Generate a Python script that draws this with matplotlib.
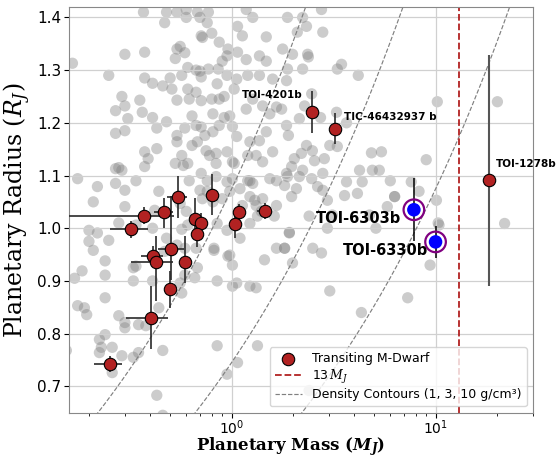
import numpy as np
import matplotlib
matplotlib.use('Agg')
import matplotlib.pyplot as plt

# background population of known planets (mass in M_J, radius in R_J)
gray_pts = [
    (0.37,1.41),(0.48,1.41),(0.54,1.41),(0.60,1.415),(0.68,1.41),(0.77,1.41),(0.47,1.39),(0.60,1.40),(0.70,1.40),
    (0.76,1.39),(0.80,1.37),(0.71,1.365),(0.72,1.362),(1.07,1.383),(1.13,1.365),(1.18,1.415),(1.27,1.40),(1.48,1.363),
    (0.166,1.313),(0.30,1.33),(0.375,1.334),(0.54,1.34),(0.59,1.333),(0.53,1.322),(0.56,1.345),(0.87,1.353),(0.96,1.34),
    (0.95,1.327),(0.90,1.317),(1.07,1.334),(1.18,1.32),(1.37,1.327),(1.48,1.317),
    (0.25,1.29),(0.375,1.285),(0.41,1.275),(0.46,1.27),(0.50,1.285),(0.51,1.264),(0.57,1.29),(0.61,1.305),(0.67,1.30),
    (0.70,1.298),(0.71,1.287),(0.77,1.302),(0.86,1.302),(0.95,1.29),(0.85,1.274),(1.06,1.283),(1.03,1.264),(1.20,1.29),
    (1.37,1.29),(1.59,1.283),
    (0.29,1.25),(0.355,1.243),(0.54,1.243),(0.61,1.264),(0.62,1.245),(0.67,1.258),(0.71,1.242),(0.80,1.245),(0.87,1.245),
    (0.92,1.25),(0.92,1.21),(0.98,1.213),(1.01,1.193),(1.18,1.226),(1.27,1.245),(1.42,1.232),(1.54,1.217),(1.66,1.23),
    (0.27,1.223),(0.30,1.232),(0.31,1.208),(0.30,1.185),(0.27,1.18),(0.365,1.22),(0.41,1.21),(0.43,1.19),(0.48,1.202),
    (0.54,1.176),(0.59,1.19),(0.64,1.213),(0.67,1.195),(0.71,1.192),(0.74,1.176),(0.81,1.183),(0.81,1.217),(0.87,1.195),
    (1.06,1.174),(1.23,1.164),(1.37,1.166),(1.48,1.183),
    (0.375,1.145),(0.43,1.151),(0.39,1.132),(0.375,1.117),(0.54,1.164),(0.57,1.138),(0.64,1.157),(0.68,1.164),(0.75,1.147),
    (0.78,1.138),(0.84,1.142),(0.95,1.145),(1.01,1.126),(1.20,1.138),(1.32,1.138),(1.42,1.126),(1.59,1.145),
    (0.176,1.094),(0.22,1.079),(0.21,1.05),(0.27,1.113),(0.29,1.11),(0.27,1.085),(0.30,1.072),(0.34,1.09),(0.44,1.07),
    (0.53,1.123),(0.58,1.119),(0.62,1.09),(0.71,1.104),(0.76,1.09),(0.84,1.098),(0.95,1.088),(1.01,1.094),(1.10,1.075),
    (1.23,1.09),(1.27,1.085),(1.42,1.056),(1.54,1.094),(1.66,1.09),
    (0.30,1.041),(0.56,1.047),(0.60,1.032),(0.70,1.072),(0.72,1.056),(0.81,1.05),(0.90,1.056),(0.98,1.07),(1.13,1.043),
    (1.23,1.06),(1.32,1.043),(1.40,1.032),(1.66,1.043),
    (1.88,1.40),(2.23,1.40),(2.33,1.383),(2.76,1.415),(2.10,1.372),(2.80,1.372),(1.78,1.34),(1.99,1.33),(2.36,1.33),
    (2.38,1.325),(1.88,1.302),(2.23,1.302),(3.30,1.302),(3.46,1.311),(4.18,1.29),(1.86,1.28),(2.47,1.255),(2.28,1.232),
    (1.76,1.226),(3.27,1.22),(2.15,1.208),(2.73,1.21),(3.66,1.20),(1.86,1.195),(1.90,1.176),(2.33,1.157),(2.49,1.147),
    (3.03,1.157),(3.30,1.155),(2.20,1.142),(2.85,1.132),(2.55,1.128),(2.03,1.132),(4.85,1.143),(5.43,1.145),(9.0,1.13),
    (10.2,1.24),(20.1,1.24),
    (1.97,1.117),(2.23,1.11),(1.86,1.104),(2.15,1.098),(2.47,1.094),(2.80,1.104),(4.24,1.11),(4.90,1.11),(5.30,1.11),
    (4.37,1.088),(3.66,1.088),(6.0,1.09),(7.6,1.088),(1.82,1.081),(2.08,1.075),(2.64,1.079),(2.80,1.072),(1.97,1.06),
    (2.95,1.053),(3.58,1.062),(4.14,1.066),(6.3,1.06),(8.3,1.07),(10.1,1.053),(5.8,1.041),(2.40,1.023),(3.12,1.025),
    (4.74,1.025),(10.4,1.006),(21.8,1.009),
    (0.20,0.996),(0.22,0.991),(0.20,0.975),(0.25,0.977),(0.21,0.958),(0.17,0.905),(0.185,0.919),(0.24,0.938),(0.24,0.911),
    (0.33,0.925),(0.33,0.90),(0.41,0.90),(0.176,0.853),(0.19,0.849),(0.195,0.836),(0.24,0.868),(0.28,0.834),(0.30,0.821),
    (0.30,0.811),(0.35,0.817),(0.38,0.815),(0.44,0.849),(0.225,0.789),(0.24,0.798),(0.23,0.774),(0.225,0.764),(0.26,0.774),
    (0.29,0.758),(0.33,0.755),(0.35,0.764),(0.26,0.726),(0.46,0.768),(0.155,0.768),(0.43,0.683),(0.46,0.645),
    (0.56,0.896),(0.59,0.911),(0.57,0.877),(0.48,0.981),(0.54,0.968),(0.59,0.962),(0.67,0.962),(0.68,0.925),(0.66,0.906),
    (0.82,0.958),(0.98,0.949),(1.01,0.93),(0.85,0.90),(1.01,0.89),(1.06,0.896),(1.10,0.981),(1.23,0.89),(1.32,0.887),
    (1.45,0.94),(0.85,0.777),(1.07,0.745),(0.95,0.723),(1.34,0.777),(1.66,0.962),
    (1.92,0.991),(2.5,0.962),(2.76,0.953),(1.99,0.934),(1.82,0.962),(2.95,1.0),(5.1,1.0),(3.03,0.881),(4.33,0.84),
    (7.3,0.868),(9.4,0.93),(2.4,0.692),(10.3,1.01),(6.3,1.06),
    (0.28,1.115),(0.28,1.01),(0.34,1.006),(0.41,1.0),(0.42,1.034),(0.57,0.998),(0.34,0.928),(0.47,0.956),
    (0.61,1.123),(0.84,1.123),(1.03,1.123),(1.2,1.09),(1.88,1.098),(0.76,1.07),(1.3,1.053),(1.34,1.023),(1.62,1.023),
    (1.92,0.992),(1.23,1.009),(0.85,1.009),(0.95,0.996),(0.61,1.006),(0.82,0.962),(0.96,0.947),(1.82,0.962),
]
gray_mass = [p[0] for p in gray_pts]
gray_radius = [p[1] for p in gray_pts]

# transiting giants around M dwarfs
md_mass   = [0.254, 0.322, 0.372, 0.466, 0.545, 0.804, 0.664, 0.705, 0.676, 1.086, 1.04, 1.463,
             0.506, 0.411, 0.428, 0.589, 0.497, 0.404, 2.48, 3.21, 18.2]
md_radius = [0.743, 0.998, 1.024, 1.030, 1.060, 1.063, 1.018, 1.009, 0.989, 1.030, 1.008, 1.033,
             0.961, 0.947, 0.936, 0.936, 0.884, 0.830, 1.221, 1.189, 1.091]
md_mlo = [0.043, 0.069, 0.25, 0.05, 0.06, 0.05, 0.03, 0.03, 0.02, 0.03, 0.02, 0.13,
          0.07, 0.05, 0.105, 0.02, 0.02, 0.10, 0.0, 0.0, 0.0]
md_mhi = [0.038, 0.066, 0.15, 0.05, 0.06, 0.05, 0.03, 0.03, 0.02, 0.03, 0.02, 0.11,
          0.08, 0.05, 0.09, 0.02, 0.02, 0.083, 0.0, 0.0, 0.0]
md_rlo = [0.015, 0.016, 0.016, 0.03, 0.04, 0.037, 0.02, 0.02, 0.025, 0.016, 0.027, 0.015,
          0.06, 0.02, 0.075, 0.04, 0.035, 0.06, 0.04, 0.03, 0.20]
md_rhi = [0.015, 0.016, 0.016, 0.028, 0.04, 0.04, 0.04, 0.02, 0.025, 0.016, 0.027, 0.015,
          0.10, 0.02, 0.05, 0.05, 0.035, 0.06, 0.04, 0.03, 0.237]

# new planets
new_names  = ['TOI-6303b', 'TOI-6330b']
new_mass   = [7.83, 10.0]
new_radius = [1.035, 0.974]
new_rerr   = [0.06, 0.03]

densities = [1, 3, 10]  # g/cm^3
deut_limit = 13

fig = plt.figure(figsize=(5.58, 4.58), dpi=100)
ax = fig.add_axes([0.124, 0.099, 0.831, 0.886])

ax.grid(True, color='#d0d0d0', lw=0.9, zorder=0)

ax.scatter(gray_mass, gray_radius, s=66, color='gray', alpha=0.4, edgecolors='none', zorder=1)

# density contours
mj = 1.898e30; rj = 7.1492e9
mgrid = np.logspace(-1, 1.8, 300)
for i, rho in enumerate(densities):
    r = (3 * mgrid * mj / (4 * np.pi * rho)) ** (1 / 3) / rj
    ax.plot(mgrid, r, ls='--', color='gray', lw=0.85,
            label='Density Contours (1, 3, 10 g/cm³)' if i == 0 else None, zorder=2)

ax.axvline(deut_limit, color='#b22222', ls='--', lw=1.3, label=r'13$\,M_J$', zorder=2)

ax.errorbar(md_mass[:-1], md_radius[:-1], xerr=[md_mlo[:-1], md_mhi[:-1]], yerr=[md_rlo[:-1], md_rhi[:-1]],
            fmt='none', ecolor='#2a2a2a', elinewidth=1.2, zorder=3)
ax.errorbar(md_mass[-1:], md_radius[-1:], yerr=[md_rlo[-1:], md_rhi[-1:]],
            fmt='none', ecolor='#555555', elinewidth=1.5, zorder=3)
ax.scatter(md_mass, md_radius, s=80, color='#b22222', edgecolors='black', lw=0.8,
           label='Transiting M-Dwarf', zorder=4)

ax.errorbar(new_mass, new_radius, yerr=new_rerr, fmt='none', ecolor='black', elinewidth=1.1, zorder=5)
ax.scatter(new_mass, new_radius, s=220, facecolors='none', edgecolors='purple', lw=1.6, zorder=6)
ax.scatter(new_mass, new_radius, s=95, color='blue', edgecolors='none', zorder=6)

ax.text(1.12, 1.253, 'TOI-4201b', fontsize=7.5, fontweight='bold', va='center', zorder=7)
ax.text(3.54, 1.211, 'TIC-46432937 b', fontsize=7.5, fontweight='bold', va='center', zorder=7)
ax.text(19.7, 1.121, 'TOI-1278b', fontsize=7.5, fontweight='bold', va='center', zorder=7)
ax.text(2.58, 1.019, new_names[0], fontsize=10.5, fontweight='bold', va='center', zorder=7)
ax.text(3.5, 0.957, new_names[1], fontsize=10.5, fontweight='bold', va='center', zorder=7)

ax.set_xscale('log')
ax.set_xlim(0.16, 30)
ax.set_ylim(0.65, 1.42)
ax.set_yticks([0.7, 0.8, 0.9, 1.0, 1.1, 1.2, 1.3, 1.4])
ax.tick_params(axis='y', labelsize=11, pad=2)
ax.tick_params(axis='x', labelsize=10, pad=0.5)
for sp in ax.spines.values():
    sp.set_color('#888888')

ax.set_xlabel(r'Planetary Mass ($\mathbfit{M_J}$)', family='DejaVu Serif', fontsize=12, fontweight='bold',
              math_fontfamily='dejavuserif')
ax.xaxis.set_label_coords(0.478, -0.055, transform=ax.transAxes)
ax.xaxis.label.set_va('top')
ax.set_ylabel(r'Planetary Radius ($\mathit{R_J}$)', family='DejaVu Serif', fontsize=17, labelpad=3,
              math_fontfamily='dejavuserif')

h, l = ax.get_legend_handles_labels()
order = [l.index('Transiting M-Dwarf'), l.index(r'13$\,M_J$'), l.index('Density Contours (1, 3, 10 g/cm³)')]
leg = ax.legend([h[i] for i in order], [l[i] for i in order], loc='lower right', fontsize=9,
                handlelength=2.2, borderpad=0.4, labelspacing=0.2)
for t in leg.get_texts():
    t.set_math_fontfamily('dejavuserif')

plt.savefig('out.png', dpi=100)
